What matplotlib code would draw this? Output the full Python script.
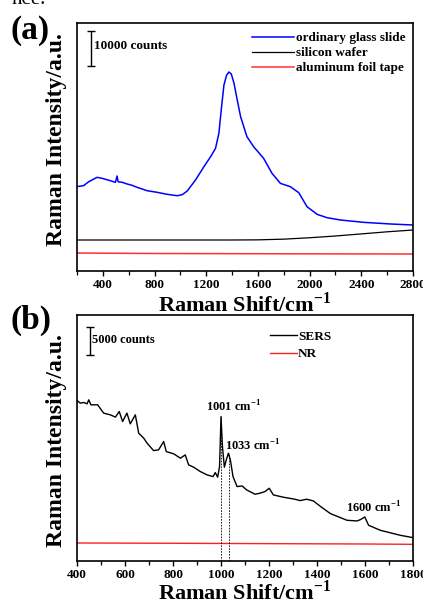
import matplotlib
matplotlib.use("Agg")
import matplotlib.pyplot as plt
from matplotlib.ticker import MultipleLocator

plt.rcParams["font.family"] = ["Liberation Serif", "DejaVu Serif"]
plt.rcParams["font.weight"] = "bold"
plt.rcParams["mathtext.fontset"] = "custom"
plt.rcParams["mathtext.rm"] = "Liberation Serif:bold"
plt.rcParams["mathtext.bf"] = "Liberation Serif:bold"

# panel (a): spectra of substrates
a_glass_x = [200, 252, 290, 355, 394, 458, 497, 510, 518, 549, 588, 626, 665, 743, 820, 898,
             975, 1014, 1053, 1117, 1182, 1234, 1272, 1298, 1316, 1337, 1358, 1376, 1394,
             1415, 1440, 1466, 1515, 1567, 1644, 1709, 1774, 1851, 1916, 1980, 2058, 2135,
             2239, 2420, 2627, 2800]
a_glass_y = [24100, 24400, 25500, 26760, 26480, 25800, 25340, 27140, 25510, 25340, 24860,
             24480, 23910, 22940, 22480, 21910, 21510, 21800, 22860, 26000, 29800, 32660,
             35060, 39340, 46000, 53140, 56000, 56860, 56290, 53630, 48860, 44090, 38370,
             35510, 32190, 27900, 25040, 24090, 22370, 18370, 16190, 15230, 14570, 13900,
             13430, 13140]
a_si_x = [200, 600, 1000, 1400, 1600, 1800, 2000, 2200, 2400, 2600, 2800]
a_si_y = [8860, 8860, 8860, 8860, 8900, 9100, 9500, 10000, 10600, 11200, 11710]
a_al_x = [200, 800, 1400, 2000, 2800]
a_al_y = [5140, 5000, 4950, 4900, 4860]

# panel (b): SERS vs normal Raman
b_sers_x = [400, 414, 428, 442, 449, 458, 486, 511, 539, 560, 576, 590, 608, 622, 643, 657,
            678, 692, 719, 740, 761, 772, 803, 831, 851, 865, 886, 914, 942, 967, 976, 986,
            994, 1000, 1006, 1014, 1022, 1031, 1039, 1050, 1067, 1088, 1107, 1142, 1162, 1183,
            1201, 1218, 1260, 1308, 1329, 1357, 1385, 1419, 1456, 1525, 1567, 1581, 1599,
            1615, 1664, 1747, 1800]
b_sers_y = [28970, 28490, 28610, 28370, 29090, 28190, 28190, 26690, 26380, 25970, 26980,
            25170, 26690, 24760, 26380, 23070, 22170, 21270, 19930, 20060, 21560, 19750, 19340,
            18560, 19150, 17350, 16930, 16140, 15540, 15240, 15960, 15120, 17040, 26080, 20650,
            16930, 18250, 19460, 18250, 15240, 13430, 13550, 12830, 12050, 12230, 12530, 13130,
            11930, 11510, 11150, 10900, 11150, 10840, 9700, 8550, 7350, 7230, 7470, 7950, 6450,
            5540, 4640, 4220]
b_nr_x = [400, 800, 1200, 1600, 1800]
b_nr_y = [3250, 3200, 3130, 3070, 3010]
b_peaks = [1001, 1033]
b_peak_tops = [26080, 19460]

fig = plt.figure(figsize=(4.23, 6.02), dpi=100)
fig.text(12 / 423, 1 - 4 / 602, "nce.", fontsize=15, fontweight="normal", va="baseline")

label_kw = dict(fontsize=17, fontweight="bold")
xlabel_kw = dict(fontsize=16, fontweight="bold")


def style_axes(ax):
    for s in ax.spines.values():
        s.set_linewidth(1.2)
    ax.set_yticks([])
    ax.tick_params(axis="x", direction="out", length=3.5, width=1, labelsize=9.5, pad=2)
    ax.tick_params(axis="x", which="minor", direction="out", length=3, width=0.9)
    for t in ax.get_xticklabels():
        t.set_fontweight("bold")


# ---- (a)
ax1 = fig.add_axes([77 / 423, 1 - 271 / 602, 336 / 423, 248 / 602])
ax1.plot(a_glass_x, a_glass_y, color="#0000ff", lw=1.1, label="ordinary glass slide")
ax1.plot(a_si_x, a_si_y, color="black", lw=0.9, label="silicon wafer")
ax1.plot(a_al_x, a_al_y, color="#ff3030", lw=1.1, label="aluminum foil tape")
ax1.set_xlim(200, 2800)
ax1.set_ylim(0, 70860)
ax1.xaxis.set_major_locator(MultipleLocator(400))
ax1.xaxis.set_minor_locator(MultipleLocator(200))
style_axes(ax1)
ax1.set_xlabel(r"Raman Shift/cm$^{-1}$", labelpad=1, **xlabel_kw)
ax1.set_ylabel("Raman Intensity/a.u.", **label_kw)
ax1.yaxis.set_label_coords(-0.03, 0.53)
ax1.errorbar([305], [63700], yerr=[5000], color="black", lw=1, capsize=3, capthick=1)
ax1.text(335, 64300, "10000 counts", fontsize=9.5, fontweight="bold", va="center")
ax1.legend(loc="upper right", bbox_to_anchor=(1.005, 1.0), frameon=False, fontsize=9.5,
           handlelength=3.2, handletextpad=0.15, labelspacing=0.2, borderaxespad=0.3)
fig.text(10 / 423, 1 - 31 / 602, "(a)", fontsize=24, fontweight="bold", va="center")

# ---- (b)
ax2 = fig.add_axes([77 / 423, 1 - 561 / 602, 336 / 423, 246 / 602])
ax2.plot(b_sers_x, b_sers_y, color="black", lw=1, label="SERS")
ax2.plot(b_nr_x, b_nr_y, color="#ff2020", lw=1, label="NR")
ax2.set_xlim(400, 1800)
ax2.set_ylim(0, 44400)
ax2.xaxis.set_major_locator(MultipleLocator(200))
ax2.xaxis.set_minor_locator(MultipleLocator(100))
style_axes(ax2)
ax2.set_xlabel(r"Raman Shift/cm$^{-1}$", labelpad=-0.5, **xlabel_kw)
ax2.set_ylabel("Raman Intensity/a.u.", **label_kw)
ax2.yaxis.set_label_coords(-0.03, 0.49)
ax2.errorbar([456], [39670], yerr=[2500], color="black", lw=1, capsize=3, capthick=1)
ax2.text(463, 39900, "5000 counts", fontsize=9, fontweight="bold", va="center")
ax2.legend(loc="upper left", bbox_to_anchor=(0.54, 0.985), frameon=False, fontsize=9.5,
           handlelength=2.0, handletextpad=0.1, labelspacing=0.4)
for px, py in zip(b_peaks, b_peak_tops):
    ax2.plot([px, px], [0, py], color="black", lw=0.6, ls=(0, (2, 1.5)))
ax2.text(939, 27770, r"1001 cm$^{-1}$", fontsize=9, fontweight="bold", va="center")
ax2.text(1015, 20840, r"1033 cm$^{-1}$", fontsize=9, fontweight="bold", va="center")
ax2.text(1522, 9500, r"1600 cm$^{-1}$", fontsize=9, fontweight="bold", va="center")
fig.text(10 / 423, 1 - 320 / 602, "(b)", fontsize=24, fontweight="bold", va="center")

fig.savefig("out.png", dpi=100)
